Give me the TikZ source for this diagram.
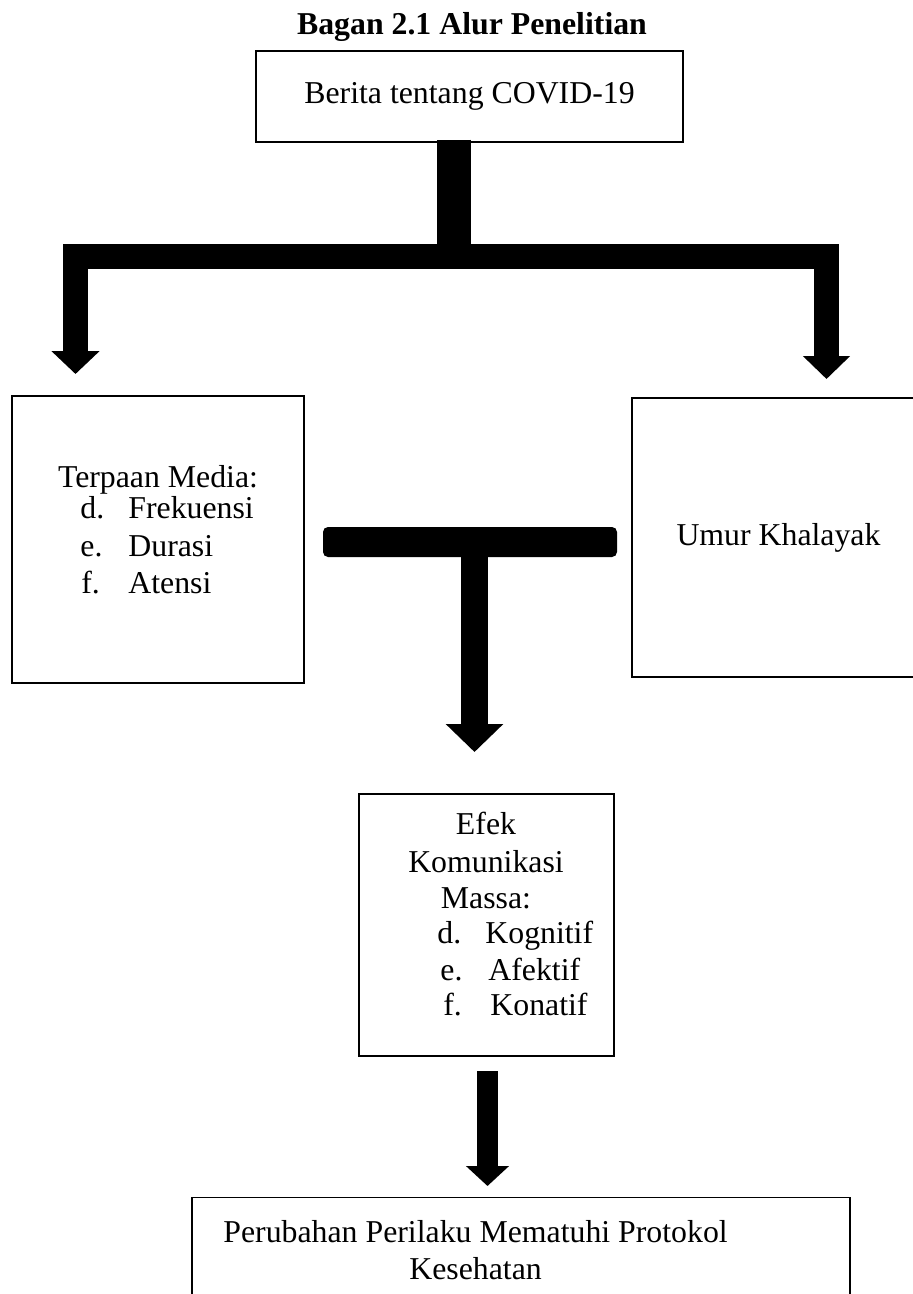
\documentclass[tikz,border=0pt]{standalone}
\usepackage{fontspec}
\setmainfont{Liberation Serif}
\usetikzlibrary{arrows.meta}
\newcommand{\fs}{\fontsize{15.9}{19}\selectfont}
\tikzset{
  box/.style={draw, line width=0.7pt, inner sep=0pt},
  txt/.style={inner sep=0pt, font=\fs},
  thickbar/.style={line width=12.5pt, line join=miter, line cap=butt},
}
\begin{document}
\begin{tikzpicture}[x=0.5pt,y=-0.5pt]
\useasboundingbox (0,0) rectangle (912,1294);
% title
\node[txt, anchor=base, font=\fs\bfseries] (title) at (472,35) {Bagan 2.1 Alur Penelitian};
% boxes
\node[box, minimum width=213.5pt, minimum height=45.5pt, font=\fs] (berita) at (469.5,96.5) {Berita tentang COVID-19};
\node[box, minimum width=146pt, minimum height=143.5pt] (terpaan) at (158,539.5) {};
\node[box, minimum width=146.5pt, minimum height=139.5pt, font=\fs] (umur) at (778.5,537.5) {Umur Khalayak};
\node[box, minimum width=127.5pt, minimum height=131pt] (efek) at (486.5,925) {};
\node[box, minimum width=329pt, minimum height=60pt, anchor=north] (perubahan) at (521,1197) {};
% texts in Terpaan box
\node[txt, anchor=base] (t0) at (158,487) {Terpaan Media:};
\node[txt, anchor=base west] (t1a) at (80,518) {d.};
\node[txt, anchor=base west] (t1b) at (128,518) {Frekuensi};
\node[txt, anchor=base west] (t2a) at (80,556) {e.};
\node[txt, anchor=base west] (t2b) at (128,556) {Durasi};
\node[txt, anchor=base west] (t3a) at (81,593) {f.};
\node[txt, anchor=base west] (t3b) at (128,593) {Atensi};
% texts in Efek box
\node[txt, anchor=base] (e0) at (486,834) {Efek};
\node[txt, anchor=base] (e1) at (486,872) {Komunikasi};
\node[txt, anchor=base] (e2) at (486,908) {Massa:};
\node[txt, anchor=base west] (e3a) at (437,943) {d.};
\node[txt, anchor=base west] (e3b) at (485,943) {Kognitif};
\node[txt, anchor=base west] (e4a) at (440,980) {e.};
\node[txt, anchor=base west] (e4b) at (488,980) {Afektif};
\node[txt, anchor=base west] (e5a) at (443,1015) {f.};
\node[txt, anchor=base west] (e5b) at (490,1015) {Konatif};
% texts in Perubahan box
\node[txt, anchor=base west] (p1) at (223,1242) {Perubahan Perilaku Mematuhi Protokol};
\node[txt, anchor=base west] (p2) at (409,1279) {Kesehatan};
% top split arrow
\coordinate (jC) at (454,257);
\coordinate (jL) at (75.5,257);
\coordinate (jR) at (826.5,257);
\coordinate (tipL) at (75.5,374);
\coordinate (tipR) at (826.5,379);
\draw[line width=17pt, line cap=butt] (berita.south -| jC) ++(0,-3) -- (jC);
\draw[thickbar, {Triangle[width=23.5pt,length=11.5pt]}-{Triangle[width=23pt,length=11.5pt]}] (tipL) -- (jL) -- (jR) -- (tipR);
% middle T arrow
\coordinate (tbL) at (323,527);
\coordinate (tbR) at (617,557);
\fill[rounded corners=2.5pt] (tbL) rectangle (tbR);
\coordinate (mTop) at (474.5,555);
\coordinate (mTip) at (474.5,752);
\draw[line width=13.5pt, line cap=butt, -{Triangle[width=28pt,length=14pt]}] (mTop) -- (mTip);
% lower arrow
\coordinate (lTop) at (487.5,1071);
\coordinate (lTip) at (487.5,1186);
\draw[line width=10.5pt, line cap=butt, -{Triangle[width=21pt,length=10pt]}] (lTop) -- (lTip);
\end{tikzpicture}
\end{document}
